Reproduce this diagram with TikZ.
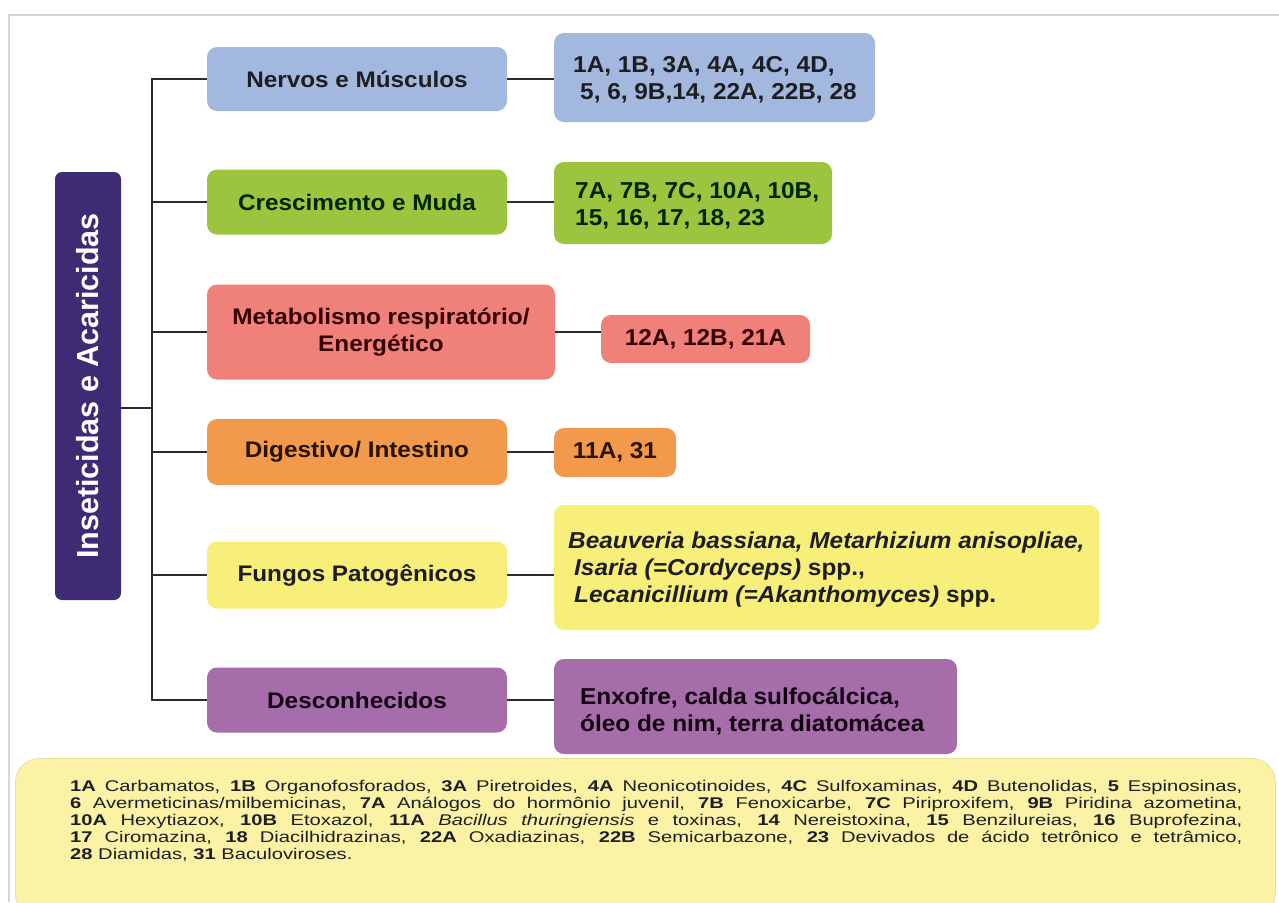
\documentclass[tikz,border=0pt]{standalone}
\usepackage{fontspec}
\setmainfont{Liberation Sans}
\newfontfamily\catfont[FakeStretch=1.08]{Liberation Sans}
\newfontfamily\lstfont[FakeStretch=1.06]{Liberation Sans}
\newfontfamily\legfont[FakeStretch=1.3]{Liberation Sans}
\definecolor{blueC}{HTML}{A3B8DE}
\definecolor{greenC}{HTML}{9CC43E}
\definecolor{salmonC}{HTML}{F0807A}
\definecolor{orangeC}{HTML}{F3994B}
\definecolor{yellowC}{HTML}{F8EE7A}
\definecolor{purpleC}{HTML}{A56DAA}
\definecolor{mainC}{HTML}{3D2B73}
\definecolor{legC}{HTML}{FBF2A6}
\definecolor{lineC}{HTML}{2B2B2B}
\definecolor{frameC}{HTML}{D6D6D6}
\definecolor{txtC}{HTML}{1E1E22}
\begin{document}
\begin{tikzpicture}[x=1pt,y=-1pt,
  catbox/.style={rounded corners=10pt, inner sep=0pt, minimum width=300pt, align=center,
    font=\catfont\bfseries\fontsize{22.5}{27}\selectfont, text=txtC},
  lstbox/.style={rounded corners=10pt, inner sep=0pt},
  lsttext/.style={inner sep=0pt, anchor=west, align=left,
    font=\lstfont\bfseries\fontsize{23}{27}\selectfont, text=txtC},
  conn/.style={line width=2.8pt, draw=lineC}]
\useasboundingbox (0,0) rectangle (1279,902);
\fill[white] (0,0) rectangle (1279,902);
\draw[frameC, line width=1.5pt] (9,902) -- (9,15) -- (1279,15);

% main box
\node[rounded corners=7pt, fill=mainC, rotate=90, minimum width=428pt, minimum height=66pt,
  inner sep=0pt, text=white, font=\bfseries\fontsize{30.5}{34}\selectfont] (main) at (88,386)
  {Inseticidas e Acaricidas};

% categories
\node[catbox, fill=blueC, minimum height=64pt] (nerv) at (357,79) {Nervos e Músculos};
\node[catbox, fill=greenC, minimum height=65pt, text=black!85!green] (cres) at (357,202) {Crescimento e Muda};
\node[catbox, fill=salmonC, minimum width=348pt, minimum height=95pt, text=black!80!red] (meta) at (381,332)
  {Metabolismo respiratório/\\Energético};
\node[catbox, fill=orangeC, minimum height=66pt, text=black!85!orange] (dige) at (357,452) {Digestivo/ Intestino};
\node[catbox, fill=yellowC, minimum height=67pt] (fung) at (357,575) {Fungos Patogênicos};
\node[catbox, fill=purpleC, minimum height=65pt, text=black!85!violet] (desc) at (357,700) {Desconhecidos};

% lists
\node[lstbox, fill=blueC, minimum width=321pt, minimum height=89pt] (lnerv) at (714.5,77.5) {};
\node[lsttext] (lnervt) at (573,80) {1A, 1B, 3A, 4A, 4C, 4D,\\\hspace*{7pt}5, 6, 9B,14, 22A, 22B, 28};
\node[lstbox, fill=greenC, minimum width=278pt, minimum height=82pt] (lcres) at (693,203) {};
\node[lsttext, text=black!85!green] (lcrest) at (575,206) {7A, 7B, 7C, 10A, 10B,\\15, 16, 17, 18, 23};
\node[lstbox, fill=salmonC, minimum width=209pt, minimum height=48pt] (lmeta) at (705.5,339) {};
\node[lsttext, anchor=center, text=black!80!red] (lmetat) at (lmeta.center) {12A, 12B, 21A};
\node[lstbox, fill=orangeC, minimum width=122pt, minimum height=49pt] (ldige) at (615,452.5) {};
\node[lsttext, anchor=center, text=black!85!orange] (ldiget) at (ldige.center) {11A, 31};
\node[lstbox, fill=yellowC, minimum width=545pt, minimum height=125pt] (lfung) at (826.5,567.5) {};
\node[lsttext] (lfungt) at (568,570)
  {\itshape Beauveria bassiana, Metarhizium anisopliae,\\
   \hspace*{6pt}\itshape Isaria (=Cordyceps)\upshape{} spp.,\\
   \hspace*{6pt}\itshape Lecanicillium (=Akanthomyces)\upshape{} spp.};
\node[lstbox, fill=purpleC, minimum width=403pt, minimum height=95pt] (ldesc) at (755.5,706.5) {};
\node[lsttext, text=black!85!violet] (ldesct) at (580,711) {Enxofre, calda sulfocálcica,\\óleo de nim, terra diatomácea};

% connectors
\coordinate (sp) at (152,0);
\coordinate (mj) at (main.south |- 0,408);
\draw[conn] (nerv.west) -- (nerv.west -| sp) -- (desc.west -| sp) -- (desc.west);
\draw[conn] (cres.west) -- (cres.west -| sp);
\draw[conn] (meta.west) -- (meta.west -| sp);
\draw[conn] (dige.west) -- (dige.west -| sp);
\draw[conn] (fung.west) -- (fung.west -| sp);
\draw[conn] (mj) -- (mj -| sp);
\draw[conn] (nerv.east) -- (nerv.east -| lnerv.west);
\draw[conn] (cres.east) -- (cres.east -| lcres.west);
\draw[conn] (meta.east) -- (meta.east -| lmeta.west);
\draw[conn] (dige.east) -- (dige.east -| ldige.west);
\draw[conn] (fung.east) -- (fung.east -| lfung.west);
\draw[conn] (desc.east) -- (desc.east -| ldesc.west);

% legend
\node[rounded corners=24pt, fill=legC, draw=legC!85!gray, line width=0.8pt, inner sep=0pt,
  minimum width=1260pt, minimum height=160pt, anchor=north west] (leg) at (15,758) {};
\node[inner sep=0pt, anchor=north west, text width=1172pt, align=justify, text=txtC,
  font=\legfont\fontsize{15.5}{16.9}\selectfont] (legt) at (70,780.5)
  {\tolerance=9999\hbadness=10000
  \textbf{1A} Carbamatos, \textbf{1B} Organofosforados, \textbf{3A} Piretroides, \textbf{4A} Neonicotinoides, \textbf{4C} Sulfoxaminas, \textbf{4D} Butenolidas, \textbf{5} Espinosinas,\linebreak
  \textbf{6} Avermeticinas/milbemicinas, \textbf{7A} Análogos do hormônio juvenil, \textbf{7B} Fenoxicarbe, \textbf{7C} Piriproxifem, \textbf{9B} Piridina azometina,\linebreak
  \textbf{10A} Hexytiazox, \textbf{10B} Etoxazol, \textbf{11A} \textit{Bacillus thuringiensis} e toxinas, \textbf{14} Nereistoxina, \textbf{15} Benzilureias, \textbf{16} Buprofezina,\linebreak
  \textbf{17} Ciromazina, \textbf{18} Diacilhidrazinas, \textbf{22A} Oxadiazinas, \textbf{22B} Semicarbazone, \textbf{23} Devivados de ácido tetrônico e tetrâmico,\linebreak
  \textbf{28} Diamidas, \textbf{31} Baculoviroses.};
\end{tikzpicture}
\end{document}
